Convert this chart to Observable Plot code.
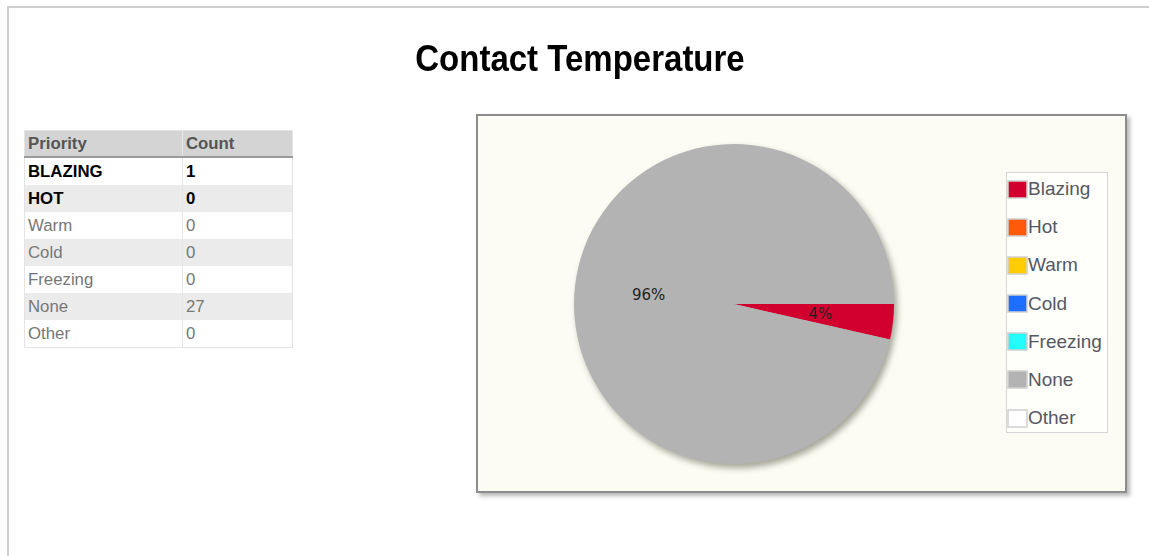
<!DOCTYPE html>
<html>
<head>
<meta charset="utf-8">
<script src="https://cdn.jsdelivr.net/npm/d3@7"></script>
<script src="https://cdn.jsdelivr.net/npm/@observablehq/plot@0.6"></script>
<style>
  html, body { margin: 0; padding: 0; background: #fff; width: 1149px; height: 556px; overflow: hidden; }
  body { font-family: "Liberation Sans", Arial, sans-serif; position: relative; }
  #frameTop { position: absolute; left: 7px; top: 6px; width: 1142px; height: 2px; background: #cfcfcf; }
  #frameLeft { position: absolute; left: 7px; top: 6px; width: 2px; height: 550px; background: #cfcfcf; }
  #title { position: absolute; left: 0; width: 1160px; top: 38px; text-align: center; font-weight: bold; font-size: 33px; color: #000; transform: scale(1, 1.1); transform-origin: 50% 0; }
  #tbl { position: absolute; left: 24px; top: 130px; border-collapse: collapse; font-size: 16.8px; border: 1px solid #e3e3e3; }
  #tbl th { background: #d4d4d4; color: #555; font-weight: bold; text-align: left; height: 25px; padding: 0 0 0 3px; border-bottom: 2px solid #9a9a9a; }
  #tbl td { height: 27px; padding: 0 0 0 3px; color: #777; }
  #tbl td.c1, #tbl th.c1 { width: 154px; border-right: 1px solid #e6e6e6; }
  #tbl td.c2, #tbl th.c2 { width: 106px; }
  #tbl tr.alt td { background: #ebebeb; }
  #tbl tr.hi td { color: #000; font-weight: bold; }
  #box { position: absolute; left: 476px; top: 114px; width: 647px; height: 375px; border: 2px solid #8c8c8c; background: #fdfcf4; box-shadow: 3px 3px 4px rgba(0,0,0,0.28); }
  #pie { position: absolute; left: 0; top: 0; }
  #legend { position: absolute; left: 528px; top: 56px; width: 100px; height: 259px; border: 1px solid #d6d6d6; background: #fefefb; overflow: hidden; }
  div.lg-swatches { font-family: "Liberation Sans", Arial, sans-serif !important; font-size: 19px !important; color: #555862; margin: -3px 0 0 0 !important; }
  div.lg-swatches .lg-swatch { height: 38.17px; padding-bottom: 0 !important; margin: 0 !important; }
  div.lg-swatches .lg-swatch > svg { margin-right: 1px !important; margin-left: 1px; }
  div.lg-swatches .lg-swatch > svg rect { stroke: #d0d0d0; stroke-width: 1.5px; }
</style>
</head>
<body>
<div id="frameTop"></div>
<div id="frameLeft"></div>
<div id="title">Contact Temperature</div>
<table id="tbl"></table>
<div id="box">
  <div id="pie"></div>
  <div id="legend"></div>
</div>
<script>
// ---- data ----
const tableHeaders = ["Priority", "Count"];
const priorities = ["BLAZING", "HOT", "Warm", "Cold", "Freezing", "None", "Other"];
const counts = [1, 0, 0, 0, 0, 27, 0];
const boldRows = ["BLAZING", "HOT"];
const legendLabels = ["Blazing", "Hot", "Warm", "Cold", "Freezing", "None", "Other"];
const sliceColors = ["#d2002e", "#ff5a0a", "#ffcc00", "#1f6fff", "#22fbfb", "#b3b3b3", "#ffffff"];

// ---- table ----
const tbl = document.getElementById("tbl");
const hr = document.createElement("tr");
tableHeaders.forEach((h, i) => {
  const th = document.createElement("th");
  th.className = i === 0 ? "c1" : "c2";
  th.textContent = h;
  hr.appendChild(th);
});
tbl.appendChild(hr);
priorities.forEach((p, i) => {
  const tr = document.createElement("tr");
  const cls = [];
  if (i % 2 === 1) cls.push("alt");
  if (boldRows.includes(p)) cls.push("hi");
  tr.className = cls.join(" ");
  const td1 = document.createElement("td"); td1.className = "c1"; td1.textContent = p;
  const td2 = document.createElement("td"); td2.className = "c2"; td2.textContent = counts[i];
  tr.appendChild(td1); tr.appendChild(td2);
  tbl.appendChild(tr);
});

// ---- pie ----
const slices = legendLabels.map((name, i) => ({name, value: counts[i], color: sliceColors[i]}));
const total = d3.sum(counts);
const arcs = d3.pie().sort(null).value(d => d.value)
  .startAngle(Math.PI / 2).endAngle(Math.PI / 2 + 2 * Math.PI)(slices)
  .filter(a => a.data.value > 0);
const labelRadius = 0.54;
const labels = arcs.map(a => {
  const mid = (a.startAngle + a.endAngle) / 2;
  return {
    x: labelRadius * Math.sin(mid),
    y: labelRadius * Math.cos(mid),
    text: Math.round(a.data.value / total * 100) + "%"
  };
});

function pieMark(index, scales) {
  const cx = scales.x(0), cy = scales.y(0);
  const r = scales.x(1) - scales.x(0);
  const arcGen = d3.arc().innerRadius(0).outerRadius(r);
  const g = d3.create("svg:g")
    .attr("transform", `translate(${cx},${cy})`)
    .style("filter", "drop-shadow(3px 4px 3px rgba(60,60,40,0.45))");
  g.selectAll("path").data(arcs).join("path")
    .attr("d", arcGen)
    .attr("fill", a => a.data.color);
  return g.node();
}

const chart = Plot.plot({
  width: 647,
  height: 375,
  marginLeft: 96,
  marginRight: 231,
  marginTop: 28,
  marginBottom: 27,
  x: {domain: [-1, 1], axis: null},
  y: {domain: [-1, 1], axis: null},
  style: {background: "transparent", overflow: "visible"},
  marks: [
    pieMark,
    Plot.text(labels, {
      x: "x", y: "y", text: "text",
      fill: "#222", fontSize: 15,
      fontFamily: "DejaVu Sans, sans-serif"
    })
  ]
});
document.getElementById("pie").appendChild(chart);

// ---- legend ----
const legend = Plot.legend({
  color: {type: "ordinal", domain: legendLabels, range: sliceColors},
  legend: "swatches",
  columns: 1,
  swatchWidth: 19,
  swatchHeight: 17,
  className: "lg"
});
document.getElementById("legend").appendChild(legend);
</script>
</body>
</html>
